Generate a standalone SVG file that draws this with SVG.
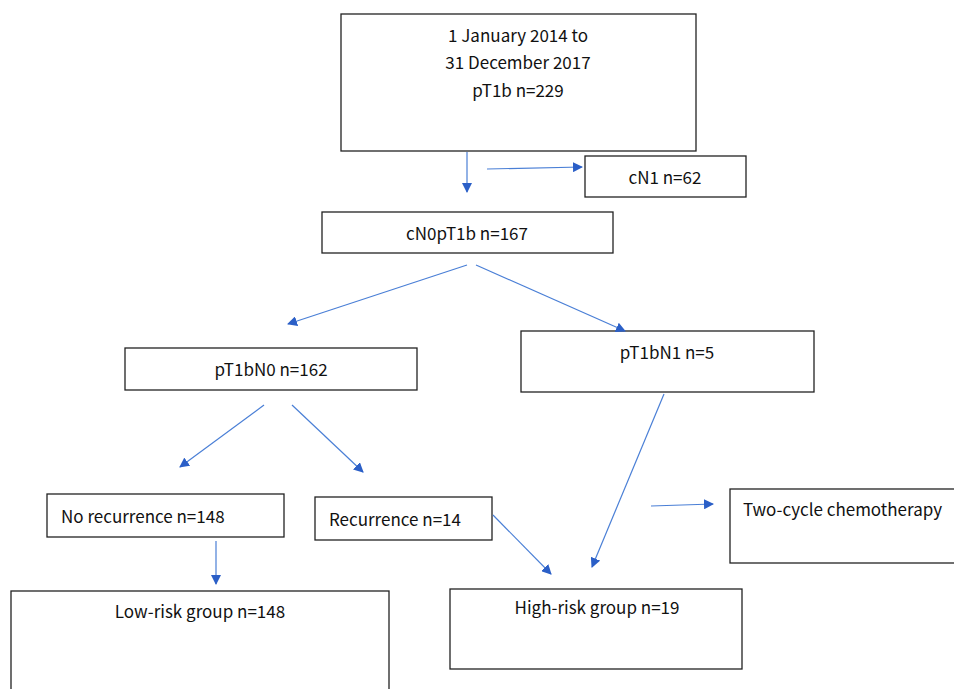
<svg xmlns="http://www.w3.org/2000/svg" width="954" height="689" viewBox="0 0 954 689">
<style>
.box{fill:#fff;stroke:#222;stroke-width:1.3}
.t{font-family:"Noto Sans CJK SC","Liberation Sans",sans-serif;font-size:17px;fill:#111}
.c{text-anchor:middle}
.ln{stroke:#4a7fd6;stroke-width:1.2;fill:none;marker-end:url(#ah)}
</style>
<defs>
<marker id="ah" markerWidth="10" markerHeight="10" refX="9" refY="5" orient="auto" markerUnits="userSpaceOnUse">
<path d="M0,0 L10,5 L0,10 z" fill="#2b5fc7"/>
</marker>
</defs>
<rect width="954" height="689" fill="#fff"/>
<g id="n-top"><rect class="box" x="341" y="14" width="355" height="137"/>
<text class="t c" x="518" y="42">1 January 2014 to</text>
<text class="t c" x="518" y="69">31 December 2017</text>
<text class="t c" x="518" y="97">pT1b n=229</text></g>
<g id="n-cn1"><rect class="box" x="585" y="156" width="161" height="41"/><text class="t c" x="665" y="184">cN1 n=62</text></g>
<g id="n-cn0"><rect class="box" x="322" y="212" width="291" height="41"/><text class="t c" x="467" y="240">cN0pT1b n=167</text></g>
<g id="n-pn0"><rect class="box" x="125" y="348" width="292" height="42"/><text class="t c" x="271" y="376">pT1bN0 n=162</text></g>
<g id="n-pn1"><rect class="box" x="521" y="331" width="293" height="61"/><text class="t c" x="667" y="359">pT1bN1 n=5</text></g>
<g id="n-norec"><rect class="box" x="47" y="494" width="237" height="43"/><text class="t" x="61" y="523">No recurrence n=148</text></g>
<g id="n-rec"><rect class="box" x="315" y="497" width="177" height="43"/><text class="t" x="329" y="526">Recurrence n=14</text></g>
<g id="n-chemo"><rect class="box" x="730" y="489" width="230" height="74"/><text class="t" x="743" y="516">Two-cycle chemotherapy</text></g>
<g id="n-low"><rect class="box" x="11" y="591" width="378" height="110"/><text class="t c" x="200" y="618">Low-risk group n=148</text></g>
<g id="n-high"><rect class="box" x="450" y="589" width="292" height="80"/><text class="t c" x="597" y="614">High-risk group n=19</text></g>
<g id="connectors">
<line class="ln" x1="467" y1="152" x2="467" y2="192"/>
<line class="ln" x1="487" y1="169" x2="582" y2="167"/>
<line class="ln" x1="467" y1="265" x2="288" y2="324"/>
<line class="ln" x1="476" y1="265" x2="625" y2="331"/>
<line class="ln" x1="264" y1="405" x2="180" y2="467"/>
<line class="ln" x1="292" y1="405" x2="363" y2="472"/>
<line class="ln" x1="664" y1="394" x2="592" y2="567"/>
<line class="ln" x1="493" y1="515" x2="551" y2="574"/>
<line class="ln" x1="216" y1="541" x2="216" y2="584"/>
<line class="ln" x1="651" y1="506" x2="713" y2="504"/>
</g>
</svg>
